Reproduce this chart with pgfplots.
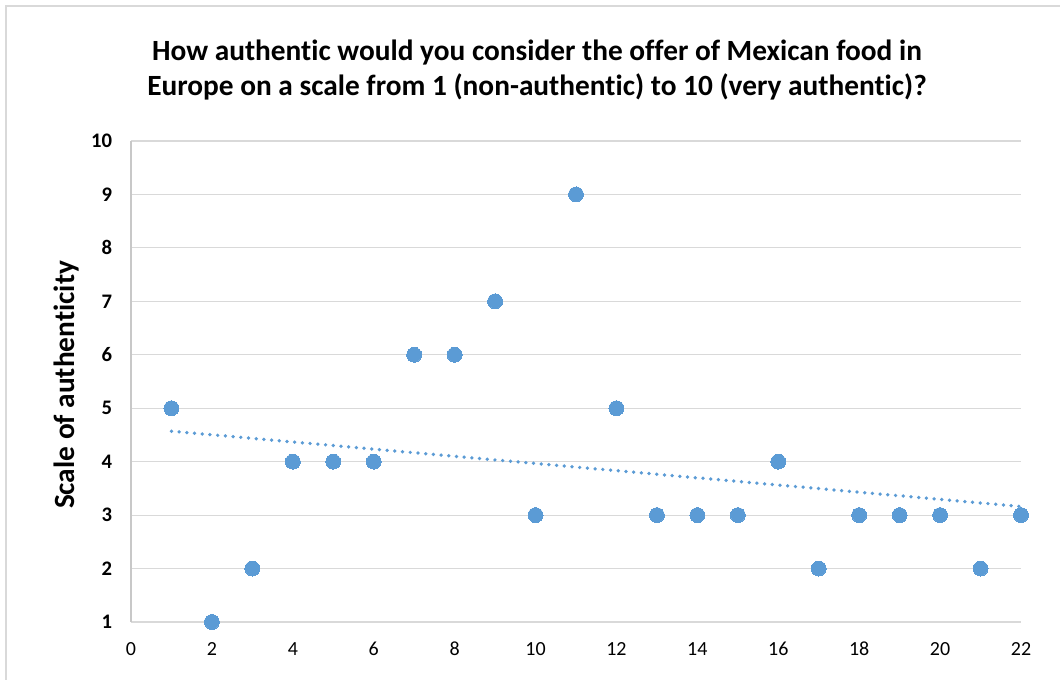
\documentclass[border=0pt]{standalone}
\usepackage{pgfplots}
\pgfplotsset{compat=1.18}
\usepackage{fontspec}
\setmainfont{Carlito}[Ligatures=NoCommon]
\definecolor{ptblue}{HTML}{5B9BD5}
\definecolor{gridgray}{HTML}{D9D9D9}
\definecolor{axisgray}{HTML}{C8C8C8}
\begin{document}
\begin{tikzpicture}[x=1pt,y=1pt]
\useasboundingbox (0,0) rectangle (795,510);
\clip (0,0) rectangle (795,510);
\draw[gridgray, line width=1.2pt] (4.5,-20) -- (4.5,505.5) -- (820,505.5);
\node[anchor=base, font=\fontsize{22}{26}\selectfont\bfseries] at (402.75,464.25) {How authent\kern0pt ic would you consider the offer of Mexican food in};
\node[anchor=base, font=\fontsize{22}{26}\selectfont\bfseries] at (402.75,438) {Europe on a scale from 1 (non-authent\kern0pt ic) to 10 (very authent\kern0pt ic)?};
\node[rotate=90, font=\fontsize{22}{26}\selectfont\bfseries] at (50.25,221.25) {Scale of authent\kern0pt icity};
\begin{axis}[
  at={(98.25pt,43.5pt)}, anchor=south west, scale only axis,
  width=667.5pt, height=360.75pt,
  xmin=0, xmax=22, ymin=1, ymax=10,
  xtick={0,2,...,22}, ytick={1,...,10},
  axis lines=left,
  axis line style={-, draw=gridgray, line width=0.9pt},
  y axis line style={draw=axisgray, line width=1.1pt},
  ymajorgrids, grid style={gridgray, line width=0.9pt},
  major tick length=0pt,
  clip=false,
  /pgf/number format/assume math mode=true,
  xticklabel style={font=\fontsize{15}{18}\selectfont, anchor=north, inner sep=0pt, yshift=-15pt},
  yticklabel style={font=\fontsize{15.5}{18}\selectfont\bfseries, anchor=east, inner sep=0pt, xshift=-14pt},
]
\addplot[ptblue, line width=2.8pt, line cap=round, dash pattern=on 0pt off 5.8pt] coordinates {(1,4.57) (22,3.16)};
\addplot[only marks, color=ptblue, mark=*, mark size=5.6pt, mark options={fill=ptblue, draw=ptblue, line width=0pt}] coordinates {
(1,5) (2,1) (3,2) (4,4) (5,4) (6,4) (7,6) (8,6) (9,7) (10,3) (11,9)
(12,5) (13,3) (14,3) (15,3) (16,4) (17,2) (18,3) (19,3) (20,3) (21,2) (22,3)};
\end{axis}
\end{tikzpicture}
\end{document}
